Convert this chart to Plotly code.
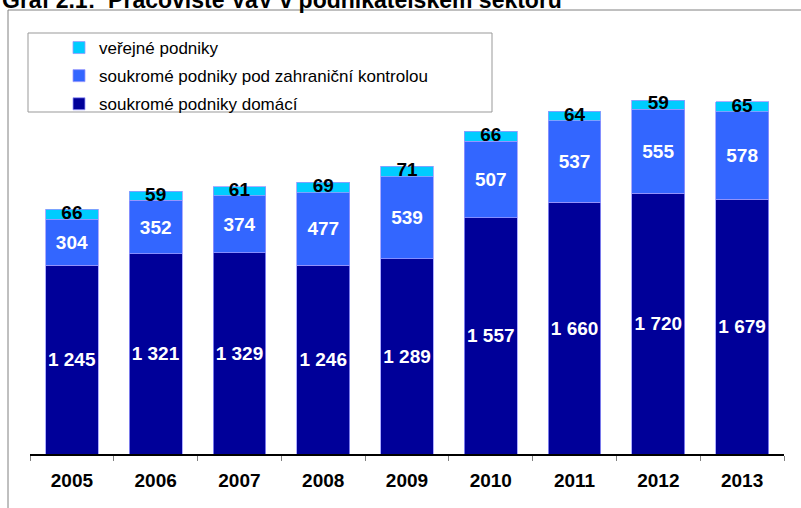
import plotly.graph_objects as go

years = ["2005", "2006", "2007", "2008", "2009", "2010", "2011", "2012", "2013"]
domestic = [1245, 1321, 1329, 1246, 1289, 1557, 1660, 1720, 1679]
foreign = [304, 352, 374, 477, 539, 507, 537, 555, 578]
public = [66, 59, 61, 69, 71, 66, 64, 59, 65]

names = ["soukromé podniky domácí",
         "soukromé podniky pod zahraniční kontrolou",
         "veřejné podniky"]
colors = ["#000099", "#3366FF", "#00CCFF"]

W, H = 801, 508
font = "Liberation Sans, Arial, sans-serif"

fig = go.Figure()
for i, (vals, nm, col) in enumerate(zip([domestic, foreign], names[:2], colors[:2])):
    fig.add_trace(go.Bar(
        x=years, y=vals, name=nm, legendgroup=nm, legendrank=3 - i,
        marker=dict(color=col, line=dict(color="#9999FF", width=0.8)),
        texttemplate="<b>%{y:,}</b>", textposition="inside", insidetextanchor="middle",
        textangle=0, textfont=dict(color="white", size=19, family=font),
        constraintext="none",
    ))

fig.add_trace(go.Bar(
    x=years, y=public, name=names[2], legendgroup=names[2], legendrank=1,
    marker=dict(color=colors[2], line=dict(color="#9999FF", width=0.8)),
    hoverinfo="skip",
))

# labels of the thin top segment, centred on it
mid = [d + f + p / 2 for d, f, p in zip(domestic, foreign, public)]
fig.add_trace(go.Scatter(
    x=years, y=mid, mode="text", text=["<b>%d</b>" % p for p in public],
    textposition="middle center", showlegend=False, hoverinfo="skip",
    textfont=dict(color="black", size=19, family=font),
))

x0, x1 = 30 / W, 784 / W
y0, y1 = (H - 454) / H, (H - 75) / H

fig.update_layout(
    width=W, height=H, barmode="stack", bargap=0.37,
    separators=", ",
    margin=dict(l=0, r=0, t=0, b=0),
    paper_bgcolor="white", plot_bgcolor="white",
    font=dict(family=font, color="black"),
    xaxis=dict(domain=[x0, x1], showline=True, linecolor="black", linewidth=1.5,
               ticks="outside", tickson="boundaries", ticklen=5, tickcolor="#808080",
               ticklabelstandoff=8,
               tickfont=dict(size=19, family=font, color="black"),
               ticktext=["<b>%s</b>" % y for y in years], tickvals=years),
    yaxis=dict(domain=[y0, y1], range=[0, 2500], visible=False, showgrid=False),
    legend=dict(x=59 / W, y=1 - 30 / H, xanchor="left", yanchor="top",
                bgcolor="rgba(0,0,0,0)", borderwidth=0, tracegroupgap=3,
                font=dict(size=17, family=font, color="black")),
    showlegend=True,
    shapes=[
        dict(type="rect", xref="paper", yref="paper",
             x0=8 / W, x1=1.02, y0=-0.05, y1=1 - 10 / H,
             line=dict(color="#808080", width=1), layer="below"),
        dict(type="rect", xref="paper", yref="paper",
             x0=28 / W, x1=492 / W, y0=1 - 112 / H, y1=1 - 33 / H,
             line=dict(color="#999999", width=1), layer="below"),
    ],
    annotations=[dict(text="<b>Graf 2.1:  Pracoviště VaV v podnikatelském sektoru</b>",
                      xref="paper", yref="paper", x=0, y=1 - 15 / H,
                      xanchor="left", yanchor="bottom", showarrow=False,
                      font=dict(size=23, family=font, color="black"))],
)

fig.write_html("out.html", config={"displayModeBar": False},
               post_script="document.body.style.margin='0';document.body.style.overflow='hidden';")
